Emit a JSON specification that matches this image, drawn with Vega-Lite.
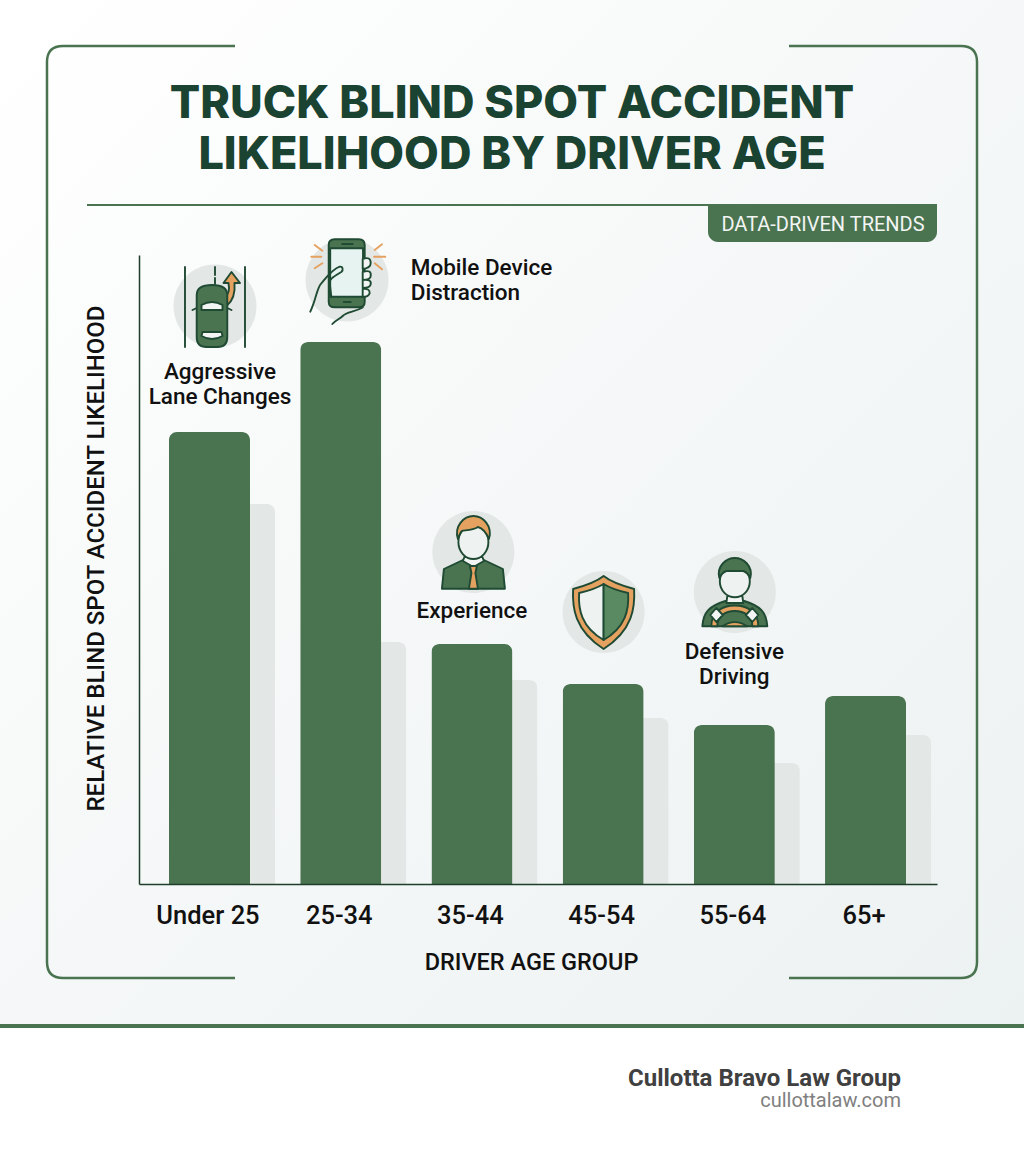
{
  "$schema": "https://vega.github.io/schema/vega-lite/v6.json",
  "autosize": {"type": "none"},
  "padding": {"left": 139, "top": 255, "right": 87, "bottom": 270},
  "width": 798,
  "height": 629,
  "background": "#ffffff",
  "title": {
    "text": ["TRUCK BLIND SPOT ACCIDENT", "LIKELIHOOD BY DRIVER AGE"],
    "font": "Inter",
    "fontSize": 45,
    "fontWeight": 800,
    "color": "#1a4331",
    "lineHeight": 51,
    "anchor": "middle",
    "dx": -26,
    "offset": -178,
    "zindex": 1
  },
  "config": {
    "view": {"stroke": null},
    "text": {"font": "Roboto"}
  },
  "datasets": {
    "bars": [
      {"age": "Under 25", "likelihood": 452, "backdrop": 380},
      {"age": "25-34", "likelihood": 542, "backdrop": 242},
      {"age": "35-44", "likelihood": 240, "backdrop": 204},
      {"age": "45-54", "likelihood": 200, "backdrop": 166},
      {"age": "55-64", "likelihood": 159, "backdrop": 121},
      {"age": "65+", "likelihood": 188, "backdrop": 149}
    ],
    "icons": [
      {"age": "Under 25", "level": 578, "part": "lane-disc"},
      {"age": "Under 25", "level": 578, "part": "lane-lines"},
      {"age": "Under 25", "level": 578, "part": "lane-arrow"},
      {"age": "Under 25", "level": 578, "part": "car-mirrors"},
      {"age": "Under 25", "level": 578, "part": "car-body"},
      {"age": "Under 25", "level": 578, "part": "car-windows"},
      {"age": "25-34", "level": 604, "part": "phone-disc"},
      {"age": "25-34", "level": 604, "part": "phone-rays"},
      {"age": "25-34", "level": 604, "part": "phone-body"},
      {"age": "25-34", "level": 604, "part": "phone-screen"},
      {"age": "25-34", "level": 604, "part": "phone-slots"},
      {"age": "25-34", "level": 604, "part": "hand-lines"},
      {"age": "25-34", "level": 604, "part": "hand-fingers"},
      {"age": "35-44", "level": 332, "part": "person-disc"},
      {"age": "35-44", "level": 332, "part": "person-body"},
      {"age": "35-44", "level": 332, "part": "person-collar"},
      {"age": "35-44", "level": 332, "part": "person-tie"},
      {"age": "35-44", "level": 332, "part": "person-face"},
      {"age": "35-44", "level": 332, "part": "person-hair"},
      {"age": "45-54", "level": 272, "part": "shield-disc"},
      {"age": "45-54", "level": 272, "part": "shield-rim"},
      {"age": "45-54", "level": 272, "part": "shield-left"},
      {"age": "45-54", "level": 272, "part": "shield-right"},
      {"age": "55-64", "level": 292, "part": "driver-disc"},
      {"age": "55-64", "level": 292, "part": "driver-body"},
      {"age": "55-64", "level": 292, "part": "driver-collar"},
      {"age": "55-64", "level": 292, "part": "driver-face"},
      {"age": "55-64", "level": 292, "part": "driver-hair"},
      {"age": "55-64", "level": 292, "part": "driver-wheel"},
      {"age": "55-64", "level": 292, "part": "driver-hands"}
    ]
  },
  "encoding": {
    "x": {
      "field": "age",
      "type": "nominal",
      "scale": {
        "domain": ["Under 25", "25-34", "35-44", "45-54", "55-64", "65+"],
        "paddingInner": 0.3826,
        "paddingOuter": 0.2323,
        "align": 0.492
      },
      "axis": {
        "zindex": 1,
        "title": "DRIVER AGE GROUP",
        "titleFont": "Roboto",
        "titleFontSize": 23.5,
        "titleFontWeight": 500,
        "titleColor": "#111111",
        "titleX": 392,
        "titleY": 85,
        "titleBaseline": "alphabetic",
        "labelFont": "Roboto",
        "labelFontSize": 25.5,
        "labelFontWeight": 500,
        "labelColor": "#111111",
        "labelAngle": 0,
        "labelOffset": -1.5,
        "labelPadding": 19,
        "ticks": false,
        "domainColor": "#1f3d2b",
        "domainWidth": 1.5
      }
    }
  },
  "layer": [
    {
      "data": {"values": [{}]},
      "mark": {
        "type": "rect",
        "fill": {
          "gradient": "linear",
          "x1": 0, "y1": 0, "x2": 1, "y2": 1,
          "stops": [
            {"offset": 0, "color": "#ffffff"},
            {"offset": 1, "color": "#ecf1f1"}
          ]
        }
      },
      "encoding": {
        "x": {"value": -139},
        "x2": {"value": 885},
        "y": {"value": -255},
        "y2": {"value": 770}
      }
    },
    {
      "data": {"values": [{}]},
      "mark": {"type": "rect", "fill": "#ffffff"},
      "encoding": {
        "x": {"value": -139},
        "x2": {"value": 885},
        "y": {"value": 772},
        "y2": {"value": 899}
      }
    },
    {
      "data": {"values": [{}]},
      "mark": {"type": "rect", "fill": "#4a7350"},
      "encoding": {
        "x": {"value": -139},
        "x2": {"value": 885},
        "y": {"value": 769},
        "y2": {"value": 773}
      }
    },
    {
      "data": {"values": [{}]},
      "mark": {
        "type": "point",
        "shape": "M96,-209L-76,-209Q-92,-209 -92,-193L-92,707Q-92,723 -76,723L96,723M650,-209L822,-209Q838,-209 838,-193L838,707Q838,723 822,723L650,723",
        "size": 4,
        "filled": false,
        "stroke": "#4a7350",
        "strokeWidth": 2.5,
        "opacity": 1
      },
      "encoding": {"x": {"value": 0}, "y": {"value": 0}}
    },
    {
      "data": {"values": [{}]},
      "mark": {"type": "rule", "stroke": "#4a7350", "strokeWidth": 2},
      "encoding": {
        "x": {"value": -52},
        "x2": {"value": 798},
        "y": {"value": -50}
      }
    },
    {
      "data": {"values": [{}]},
      "mark": {
        "type": "rect",
        "fill": "#4a7350",
        "cornerRadiusBottomLeft": 10,
        "cornerRadiusBottomRight": 10
      },
      "encoding": {
        "x": {"value": 569},
        "x2": {"value": 798},
        "y": {"value": -50},
        "y2": {"value": -13}
      }
    },
    {
      "data": {"values": [{"label": "DATA-DRIVEN TRENDS"}]},
      "mark": {"type": "text", "fontSize": 20, "fontWeight": 400, "fill": "#f2f5f3", "align": "center", "baseline": "alphabetic"},
      "encoding": {
        "x": {"value": 684},
        "y": {"value": -24},
        "text": {"field": "label"}
      }
    },
    {
      "data": {"name": "bars"},
      "mark": {"type": "bar", "fill": "#e3e7e5", "xOffset": 25, "cornerRadiusEnd": 8},
      "encoding": {
        "y": {"field": "backdrop", "type": "quantitative"}
      }
    },
    {
      "data": {"name": "bars"},
      "mark": {"type": "bar", "fill": "#4a7350", "cornerRadiusEnd": 8},
      "encoding": {
        "y": {
          "field": "likelihood",
          "type": "quantitative",
          "scale": {"domain": [0, 629], "nice": false},
          "axis": {
            "zindex": 1,
            "title": "RELATIVE BLIND SPOT ACCIDENT LIKELIHOOD",
            "titleFont": "Roboto",
            "titleFontSize": 24,
            "titleFontWeight": 500,
            "titleColor": "#111111",
            "titleX": -31,
            "titleY": 303,
            "labels": false,
            "ticks": false,
            "grid": false,
            "domainColor": "#1f3d2b",
            "domainWidth": 1.5
          }
        }
      }
    },
    {
      "data": {"name": "icons"},
      "mark": {"type": "point", "filled": true, "size": 4, "opacity": 1, "strokeWidth": 1.9, "strokeJoin": "round", "strokeCap": "round"},
      "encoding": {
        "y": {"field": "level", "type": "quantitative"},
        "shape": {
          "field": "part",
          "type": "nominal",
          "legend": null,
          "scale": {
            "domain": ["lane-disc", "lane-lines", "lane-arrow", "car-mirrors", "car-body", "car-windows", "phone-disc", "phone-rays", "phone-body", "phone-screen", "phone-slots", "hand-lines", "hand-fingers", "person-disc", "person-body", "person-collar", "person-tie", "person-face", "person-hair", "shield-disc", "shield-rim", "shield-left", "shield-right", "driver-disc", "driver-body", "driver-collar", "driver-face", "driver-hair", "driver-wheel", "driver-hands"],
            "range": [
              "M-36,0A41.5,41.5 0 1,1 47,0A41.5,41.5 0 1,1 -36,0Z",
              "M-24.5,-39L-24.5,41M35.5,-39L35.5,41M5.5,-39L5.5,-31M5.5,-28L5.5,-22",
              "M15,-8C20,-12 20,-18 19,-23L14,-23L22,-34L30.5,-23L25,-23C26,-12 22,-4 17,0Z",
              "M-12.8,2L-17,4M17.8,2L22,4",
              "M-12.8,-11Q-12.8,-21 2.5,-21Q17.8,-21 17.8,-11L17.8,31Q17.8,41 8,41L-3,41Q-12.8,41 -12.8,31Z",
              "M-8,4L-8,-1Q2.5,-7 13,-1L13,4ZM-7,26L12,26L13,30Q2.5,36 -8,30Z",
              "M-35.2,0A41.5,41.5 0 1,1 47.8,0A41.5,41.5 0 1,1 -35.2,0Z",
              "M-26,-35L-18.4,-29.3M-29.4,-23.3L-19.4,-23.3M-26,-11.7L-18.4,-16.7M34,-30L41.3,-35.7M33.3,-23.3L44.6,-23.3M34,-16.7L41.3,-10.7",
              "M-12,-35Q-12,-40.7 -6,-40.7L18,-40.7Q24,-40.7 24,-35L24,22Q24,27.3 18,27.3L-6,27.3Q-12,27.3 -12,22Z",
              "M-10.5,-31.7L22.3,-31.7L22.3,16.7L-10.5,16.7Z",
              "M1.5,-36L12,-36M3,22L10,22",
              "M-30.4,31.7C-24,18 -24,8 -19.4,3.3C-14,-3 -8,-11 -1,-13.3C2,-14 3,-10 0.6,-8C-6,-4 -12,-1 -11,3.3L-9.4,16.7M22,27.5C14,32 6,32 2,36C-1,39 -5,40 -8.4,44",
              "M22,-21Q30,-24 30,-17Q30,-12 22,-11ZM22,-8Q31,-11 30,-4Q30,0 22,0ZM22,0Q31,-1 30,4Q30,8 22,8ZM22,9Q29,8 29,13Q28,17 22,17Z",
              "M-39.5,0A41,41 0 1,1 42.5,0A41,41 0 1,1 -39.5,0Z",
              "M-30,36.7L-28,17L-9,8L12,8L31,17L33,36.7Z",
              "M-7.5,5L10.5,5L12,9L1.5,15L-9,9Z",
              "M-2,14L5,14L3.5,21L6,36.7L-3,36.7L-0.5,21Z",
              "M-13.5,-10A15,17 0 1,1 16.5,-10A15,17 0 1,1 -13.5,-10Z",
              "M-14,-13C-18,-26 -8,-36 1.5,-36C11,-36 21,-26 17,-13C14,-20 10,-24 6,-25C0,-21 -8,-22 -10,-21C-12,-19 -13,-16 -14,-13Z",
              "M-40.5,0A41,41 0 1,1 41.5,0A41,41 0 1,1 -40.5,0Z",
              "M0.5,-36C8,-30 20,-26 31,-23C32,-5 30,18 0.5,37C-29,18 -31,-5 -30,-23C-19,-26 -7,-30 0.5,-36Z",
              "M0.5,-28C-6,-24 -15,-21 -24,-19C-25,-3 -22,15 0.5,28Z",
              "M0.5,-28C7,-24 16,-21 25,-19C26,-3 23,15 0.5,28Z",
              "M-40.5,0A41,41 0 1,1 41.5,0A41,41 0 1,1 -40.5,0Z",
              "M-32,34.3C-31,20 -25,14 -9,9L10,9C26,14 32,20 33,34.3Z",
              "M-7,4L8,4L9,11L-8,11Z",
              "M-14.5,-10.7A15,16 0 1,1 15.5,-10.7A15,16 0 1,1 -14.5,-10.7Z",
              "M-15,-14C-18,-26 -8,-34 0.5,-34C9,-34 19,-26 16,-14C14,-18 12,-20 9,-21L-8,-21C-11,-20 -13,-18 -15,-14Z",
              "M-23,34.3C-23,20 -12,13.5 0.5,13.5C13,13.5 24,20 24,34.3L18,34.3C18,24 10,19 0.5,19C-9,19 -17,24 -17,34.3ZM-12,34.3Q0.5,26 13,34.3Z",
              "M-18,16L-11.5,23L-18,30L-24,23ZM18,16L24,23L18,30L11.5,23Z"
            ]
          }
        },
        "fill": {
          "field": "part",
          "type": "nominal",
          "legend": null,
          "scale": {
            "domain": ["lane-disc", "lane-lines", "lane-arrow", "car-mirrors", "car-body", "car-windows", "phone-disc", "phone-rays", "phone-body", "phone-screen", "phone-slots", "hand-lines", "hand-fingers", "person-disc", "person-body", "person-collar", "person-tie", "person-face", "person-hair", "shield-disc", "shield-rim", "shield-left", "shield-right", "driver-disc", "driver-body", "driver-collar", "driver-face", "driver-hair", "driver-wheel", "driver-hands"],
            "range": ["#e3e7e5", "transparent", "#e5a15f", "transparent", "#4a7350", "#f2f5f3", "#e3e7e5", "transparent", "#4a7350", "#e6f3f0", "transparent", "transparent", "#f2f5f3", "#e3e7e5", "#4a7350", "#f2f5f3", "#e5a15f", "#eef2f1", "#e5a15f", "#e3e7e5", "#e5a15f", "#eef2f1", "#5a8a62", "#e3e7e5", "#4a7350", "#f2f5f3", "#eef2f1", "#4a7350", "#e5a15f", "#f2f5f3"]
          }
        },
        "stroke": {
          "field": "part",
          "type": "nominal",
          "legend": null,
          "scale": {
            "domain": ["lane-disc", "lane-lines", "lane-arrow", "car-mirrors", "car-body", "car-windows", "phone-disc", "phone-rays", "phone-body", "phone-screen", "phone-slots", "hand-lines", "hand-fingers", "person-disc", "person-body", "person-collar", "person-tie", "person-face", "person-hair", "shield-disc", "shield-rim", "shield-left", "shield-right", "driver-disc", "driver-body", "driver-collar", "driver-face", "driver-hair", "driver-wheel", "driver-hands"],
            "range": ["transparent", "#1f4a33", "#1f4a33", "#1f4a33", "#1f4a33", "#1f4a33", "transparent", "#e5a15f", "#1f4a33", "#1f4a33", "#1f4a33", "#1f4a33", "#1f4a33", "transparent", "#1f4a33", "#1f4a33", "#1f4a33", "#1f4a33", "#1f4a33", "transparent", "#1f4a33", "#1f4a33", "#1f4a33", "transparent", "#1f4a33", "#1f4a33", "#1f4a33", "#1f4a33", "#1f4a33", "#1f4a33"]
          }
        }
      }
    },
    {
      "data": {"values": [{"age": "Under 25", "level": 505, "note": "Aggressive\nLane Changes"}]},
      "mark": {"type": "text", "lineBreak": "\n", "lineHeight": 25, "fontSize": 22.5, "fontWeight": 500, "fill": "#111111", "align": "center", "baseline": "alphabetic", "dx": 10.5},
      "encoding": {
        "y": {"field": "level", "type": "quantitative"},
        "text": {"field": "note"}
      }
    },
    {
      "data": {"values": [{"age": "25-34", "level": 609, "note": "Mobile Device\nDistraction"}]},
      "mark": {"type": "text", "lineBreak": "\n", "lineHeight": 25, "fontSize": 22.5, "fontWeight": 500, "fill": "#111111", "align": "left", "baseline": "alphabetic", "dx": 70},
      "encoding": {
        "y": {"field": "level", "type": "quantitative"},
        "text": {"field": "note"}
      }
    },
    {
      "data": {"values": [
        {"age": "35-44", "level": 266, "note": "Experience"},
        {"age": "55-64", "level": 225, "note": "Defensive\nDriving"}
      ]},
      "mark": {"type": "text", "lineBreak": "\n", "lineHeight": 25, "fontSize": 22.5, "fontWeight": 500, "fill": "#111111", "align": "center", "baseline": "alphabetic"},
      "encoding": {
        "y": {"field": "level", "type": "quantitative"},
        "text": {"field": "note"}
      }
    },
    {
      "data": {"values": [{"label": "Cullotta Bravo Law Group"}]},
      "mark": {"type": "text", "fontSize": 24, "fontWeight": 700, "fill": "#404040", "align": "right", "baseline": "alphabetic"},
      "encoding": {
        "x": {"value": 762},
        "y": {"value": 831},
        "text": {"field": "label"}
      }
    },
    {
      "data": {"values": [{"label": "cullottalaw.com"}]},
      "mark": {"type": "text", "fontSize": 20, "fontWeight": 400, "fill": "#808080", "align": "right", "baseline": "alphabetic"},
      "encoding": {
        "x": {"value": 762},
        "y": {"value": 852},
        "text": {"field": "label"}
      }
    }
  ]
}
